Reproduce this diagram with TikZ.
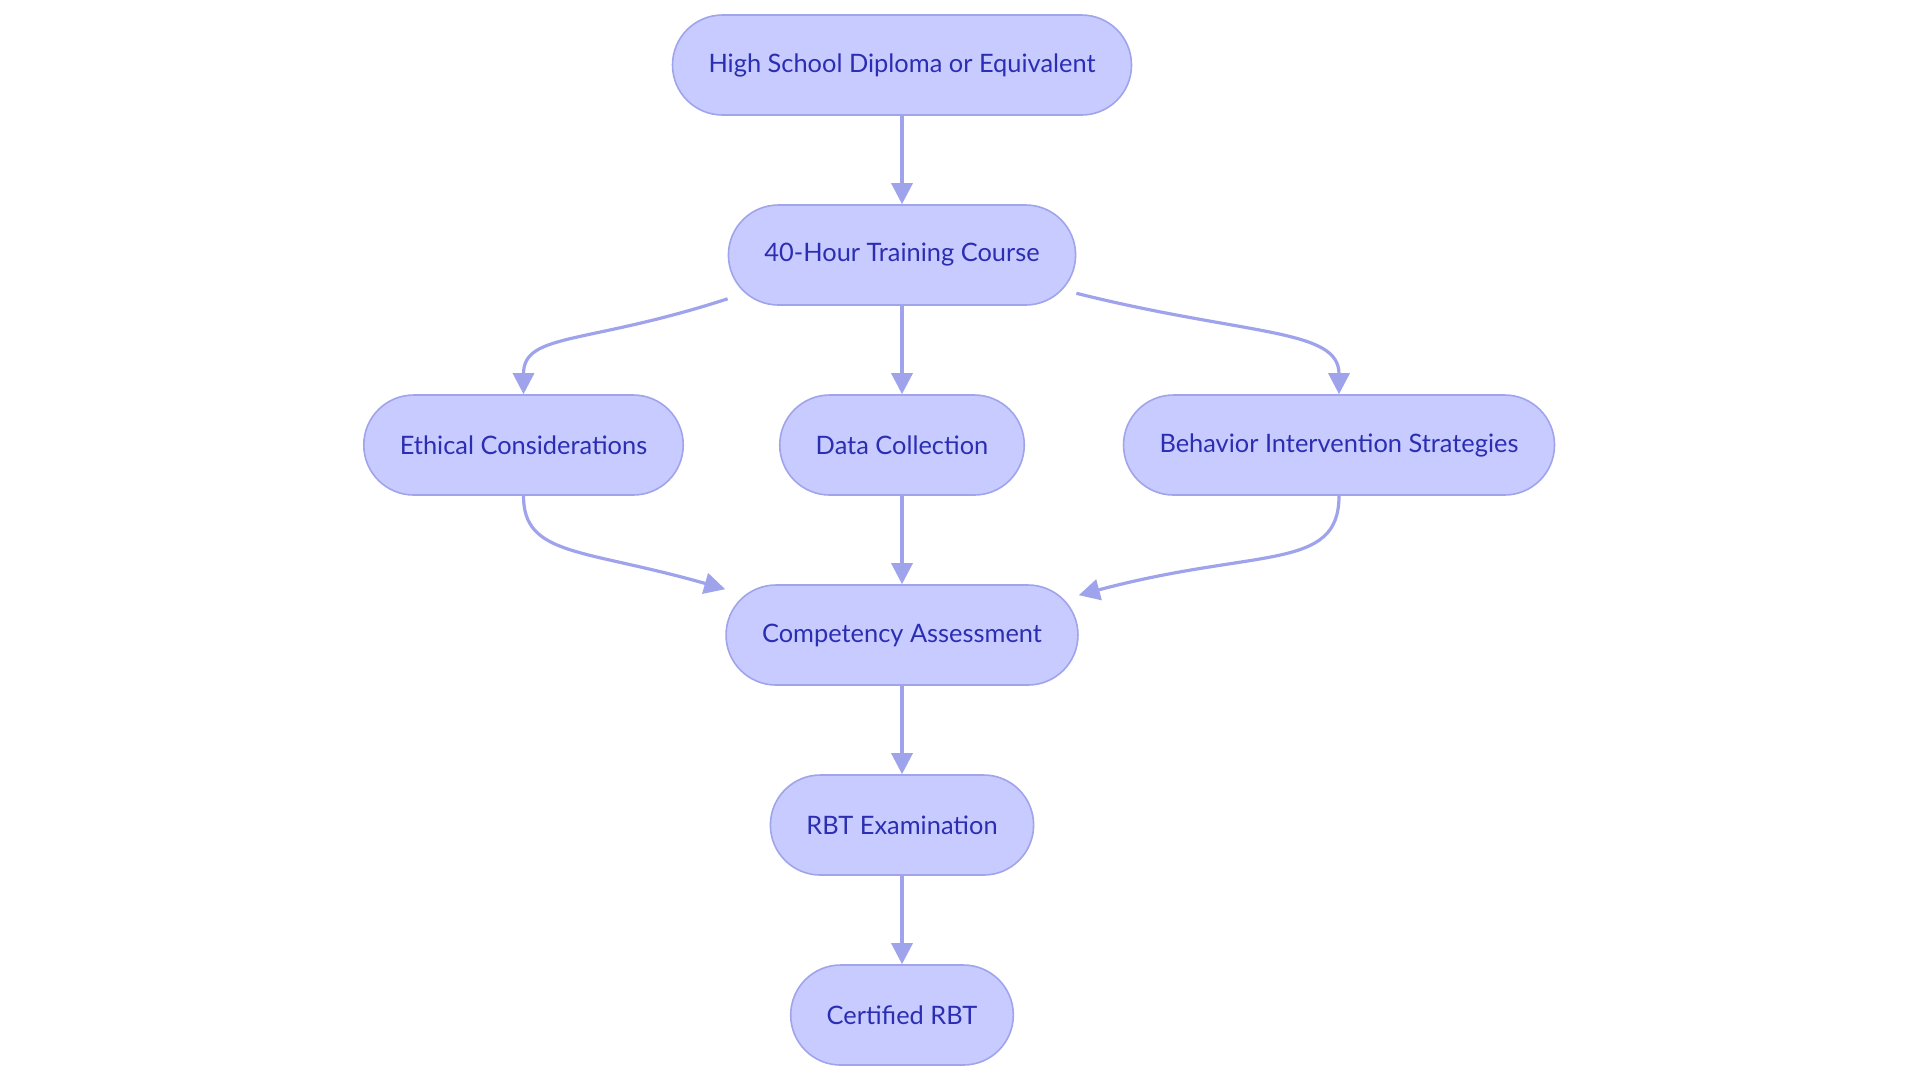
\documentclass[tikz,border=0pt]{standalone}
\usepackage{fontspec}
\setmainfont{Lato}
\usepackage{tikz}
\usetikzlibrary{arrows.meta, positioning}

\definecolor{boxfill}{RGB}{200,203,255}
\definecolor{boxline}{RGB}{160,164,234}
\definecolor{boxtext}{RGB}{44,46,178}
\definecolor{flowline}{RGB}{158,163,236}

\begin{document}
\begin{tikzpicture}[node distance=95pt,on grid,>={Triangle[length=10.5pt,width=10.5pt]},
        every node/.style={font=\fontsize{12.7}{15}\selectfont},
        stage/.style={draw=boxline,fill=boxfill,text=boxtext,line width=0.8pt,
          rounded corners=25pt,minimum height=50pt,inner xsep=18pt},
        every edge/.style={draw=flowline,fill=none,line width=1.6pt}]
    \useasboundingbox (0,0) rectangle (960pt,-541.5pt);

      \node[stage] (diploma) at (451pt,-32.5pt) {High School Diploma or Equivalent};
      \node[stage] (course)   [below=of diploma] {40-Hour Training Course};
      \node[stage] (data)     [below=of course]  {Data Collection};
      \node[stage] (ethics)   [left=189.25pt of data]  {Ethical Considerations};
      \node[stage] (behavior) [right=218.5pt of data]  {Behavior Intervention Strategies};
      \node[stage] (assess)   [below=of data]    {Competency Assessment};
      \node[stage] (exam)     [below=of assess]  {RBT Examination};
      \node[stage] (rbt)      [below=of exam]    {Certified RBT};

      \path[->,line width=1.6pt] (diploma) edge (course)
                (course) edge (data)
                ([yshift=3.5pt]course.south west) edge [out=198,in=90,out looseness=1.7,in looseness=0.7] (ethics.north)
                ([yshift=6.25pt]course.south east) edge [out=-14,in=90,out looseness=1.6,in looseness=0.6] (behavior.north)
                (ethics.south) edge [out=-90,in=164,out looseness=0.7,in looseness=1.7] ([yshift=-2.5pt]assess.north west)
                (data) edge (assess)
                (behavior.south) edge [out=-90,in=15,out looseness=0.7,in looseness=1.7] ([yshift=-5.5pt]assess.north east)
                (assess) edge (exam)
                (exam) edge (rbt);
    \end{tikzpicture}
\end{document}
